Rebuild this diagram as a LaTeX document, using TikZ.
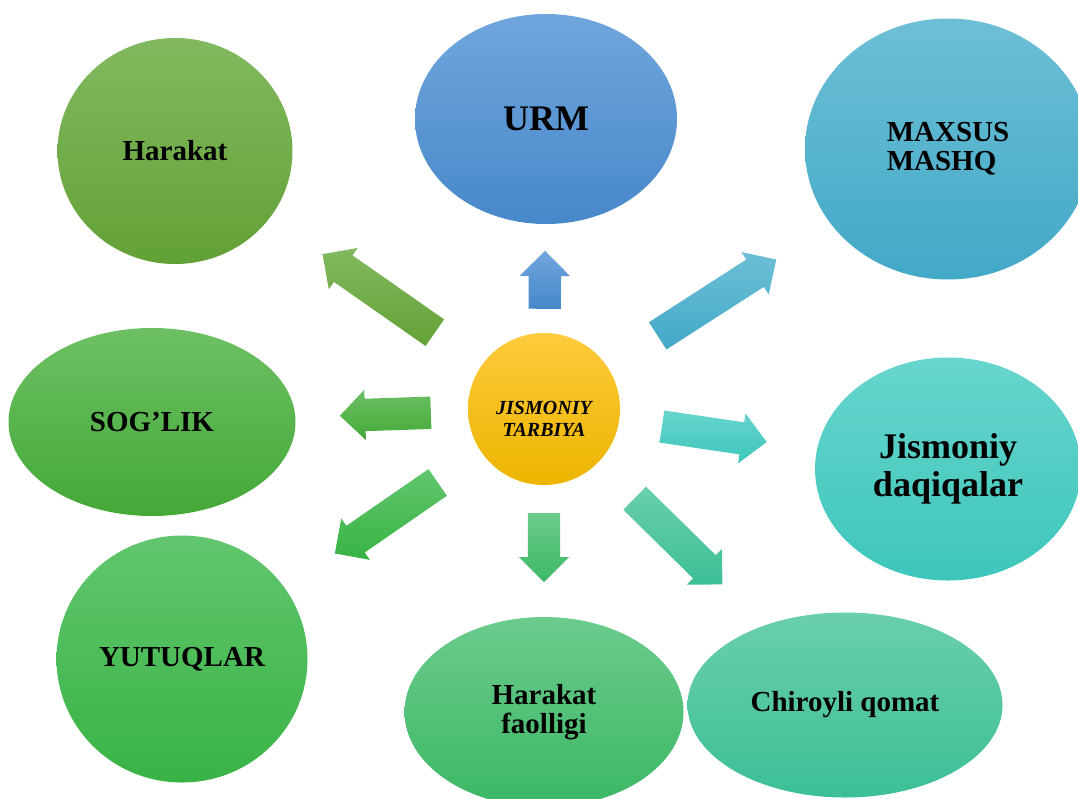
\documentclass[tikz,border=0pt]{standalone}
\usepackage{fontspec}
\setmainfont{Liberation Serif}
\usetikzlibrary{shapes.geometric,shapes.arrows,calc}

\definecolor{tjT}{HTML}{FFCA3C}
\definecolor{tjB}{HTML}{ECB500}
\definecolor{harT}{HTML}{82B95F}
\definecolor{harB}{HTML}{62A136}
\definecolor{urmT}{HTML}{70A6DD}
\definecolor{urmB}{HTML}{4788CA}
\definecolor{maxT}{HTML}{6DBFD6}
\definecolor{maxB}{HTML}{42A9C7}
\definecolor{sogT}{HTML}{6CC063}
\definecolor{sogB}{HTML}{44A938}
\definecolor{jisT}{HTML}{67D5CE}
\definecolor{jisB}{HTML}{3EC6BA}
\definecolor{yutT}{HTML}{62C66E}
\definecolor{yutB}{HTML}{38B344}
\definecolor{faoT}{HTML}{6CCB8D}
\definecolor{faoB}{HTML}{3BB865}
\definecolor{qomT}{HTML}{6ACFAB}
\definecolor{qomB}{HTML}{3CBF97}

% block arrow from the centre towards a node: target, tail, tip, colours
\newcommand{\spoke}[5]{%
  \path let \p1=($(tj)!#2!(#1)$), \p2=($(tj)!#3!(#1)$),
            \n1={atan2(\y2-\y1,\x2-\x1)}, \n2={veclen(\x2-\x1,\y2-\y1)} in
    node[spoke, rotate=\n1, minimum height=\n2, top color=#4, bottom color=#5] at (\p1) {};}

\begin{document}
\begin{tikzpicture}[x=1pt,y=-1pt,
    bubble/.style={ellipse,inner sep=0pt,align=center,
                   font=\bfseries\fontsize{29}{29}\selectfont},
    spoke/.style={single arrow,single arrow head extend=9pt,
                  single arrow tip angle=90,minimum width=50pt,
                  inner xsep=0pt,inner ysep=16pt,anchor=tail}]

    \useasboundingbox (0,0) rectangle (1078,798);
    \clip (0,0) rectangle (1078,798);

    \node (tj) [circle,minimum size=152pt,inner sep=0pt,top color=tjT,bottom color=tjB,
                label={[font=\bfseries\itshape\fontsize{20}{22}\selectfont,align=center,
                        yshift=-10pt]center:JISMONIY\\TARBIYA}] at (544,409) {};

    \node (harakat)  [bubble,minimum width=235pt,minimum height=226pt,
                      top color=harT,bottom color=harB] at (175,151) {Harakat};
    \node (urm)      [bubble,minimum width=262pt,minimum height=210pt,
                      font=\bfseries\fontsize{36}{36}\selectfont,
                      top color=urmT,bottom color=urmB] at (546,119) {URM};
    \node (maxsus)   [bubble,minimum width=286pt,minimum height=261pt,align=left,
                      top color=maxT,bottom color=maxB] at (948,149) {MAXSUS\\MASHQ};
    \node (soglik)   [bubble,minimum width=287pt,minimum height=188pt,
                      top color=sogT,bottom color=sogB] at (152,422) {SOG’LIK};
    \node (jismoniy) [bubble,minimum width=266pt,minimum height=223pt,
                      font=\bfseries\fontsize{36}{38}\selectfont,
                      top color=jisT,bottom color=jisB] at (948,469) {Jismoniy\\daqiqalar};
    \node (yutuq)    [bubble,minimum width=251pt,minimum height=247pt,
                      top color=yutT,bottom color=yutB] at (182,659) {YUTUQLAR};
    \node (faollik)  [bubble,minimum width=279pt,minimum height=190pt,
                      top color=faoT,bottom color=faoB] at (544,712) {Harakat\\faolligi};
    \node (qomat)    [bubble,minimum width=315pt,minimum height=185pt,
                      top color=qomT,bottom color=qomB] at (845,705) {Chiroyli qomat};

    \spoke{urm}{100pt}{158pt}{urmT}{urmB}
    \spoke{harakat}{133pt}{270pt}{harT}{harB}
    \spoke{maxsus}{135pt}{276pt}{maxT}{maxB}
    \spoke{soglik}{113pt}{204pt}{sogT}{sogB}
    \spoke{jismoniy}{119pt}{225pt}{jisT}{jisB}
    \spoke{yutuq}{129pt}{254pt}{yutT}{yutB}
    \spoke{faollik}{104pt}{173pt}{faoT}{faoB}
    \spoke{qomat}{127pt}{250pt}{qomT}{qomB}
\end{tikzpicture}
\end{document}
